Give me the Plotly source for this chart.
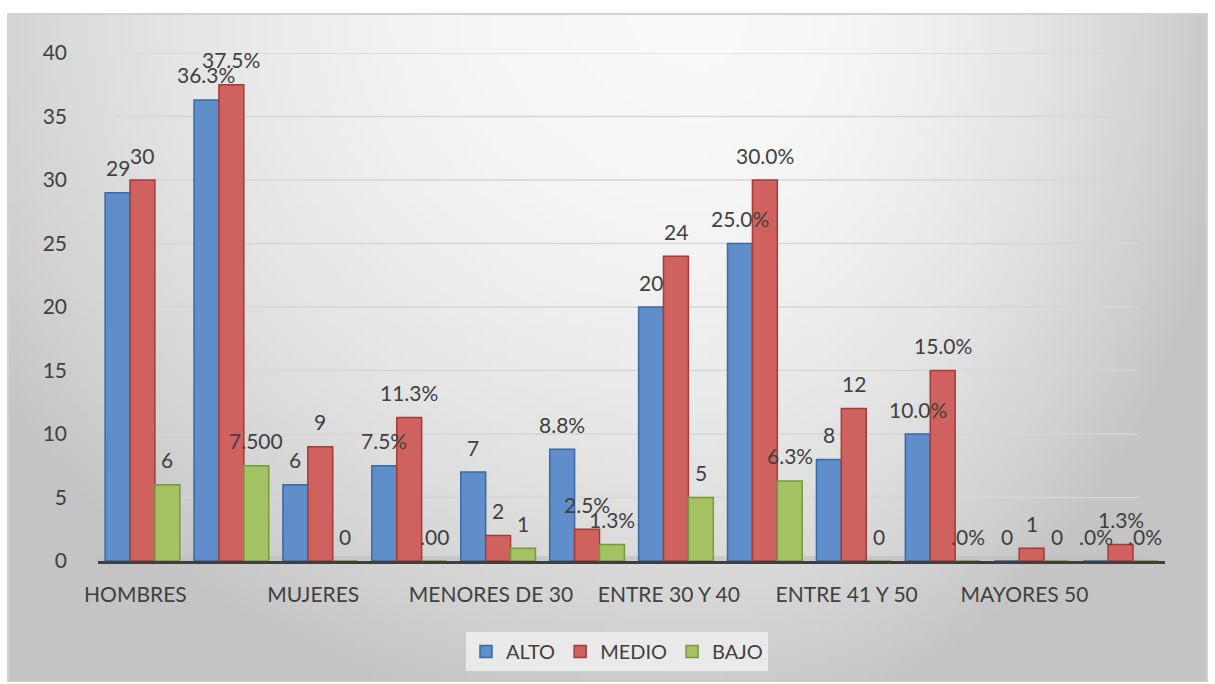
import base64
import struct
import zlib

import plotly.graph_objects as go

# ---------------- data ----------------
categories = ["HOMBRES", "", "MUJERES", "", "MENORES DE 30", "",
              "ENTRE 30 Y 40", "", "ENTRE 41 Y 50", "", "MAYORES 50", ""]
alto = [29, 36.3, 6, 7.5, 7, 8.8, 20, 25, 8, 10, 0, 0]
medio = [30, 37.5, 9, 11.3, 2, 2.5, 24, 30, 12, 15, 1, 1.3]
bajo = [6, 7.5, 0, 0, 1, 1.3, 5, 6.3, 0, 0, 0, 0]
alto_labels = ["29", "36.3%", "6", "7.5%", "7", "8.8%", "20", "25.0%", "8", "10.0%", "0", ".0%"]
medio_labels = ["30", "37.5%", "9", "11.3%", "2", "2.5%", "24", "30.0%", "12", "15.0%", "1", "1.3%"]
bajo_labels = ["6", "7.500", "0", ".00", "1", "1.3%", "5", "6.3%", "0", ".0%", "0", ".0%"]
y_ticks = [0, 5, 10, 15, 20, 25, 30, 35, 40]

series = [
    ("ALTO", alto, alto_labels, "#5f8ecb", "#3b69a3"),
    ("MEDIO", medio, medio_labels, "#cf625f", "#a23c39"),
    ("BAJO", bajo, bajo_labels, "#a4c264", "#79993a"),
]

FONT = "Lato, Carlito, sans-serif"
TXT = "#404040"

# ---------------- layout geometry ----------------
W, H = 1215, 684
ML, MR, MT, MB = 98, 50, 53, 123
PW, PH = W - ML - MR, H - MT - MB
BARGAP = 0.16


def px_to_paper_x(px):
    return (px - ML) / PW


def py_to_paper_y(py):
    return (H - MB - py) / PH


# ---------------- background gradient image ----------------
def make_png(w, h, shade):
    rows = []
    for j in range(h):
        row = bytearray([0])
        for i in range(w):
            row.append(shade(i, j))
        rows.append(bytes(row))
    raw = b"".join(rows)

    def chunk(tag, data):
        return (struct.pack(">I", len(data)) + tag + data
                + struct.pack(">I", zlib.crc32(tag + data) & 0xFFFFFFFF))

    png = b"\x89PNG\r\n\x1a\n"
    png += chunk(b"IHDR", struct.pack(">IIBBBBB", w, h, 8, 0, 0, 0, 0))
    png += chunk(b"IDAT", zlib.compress(raw, 9))
    png += chunk(b"IEND", b"")
    return "data:image/png;base64," + base64.b64encode(png).decode()


BG_X0, BG_Y0, BG_X1, BG_Y1 = 9, 15, 1206, 681
IMG_W, IMG_H = 160, 90


def shade(i, j):
    px = BG_X0 + (i + 0.5) / IMG_W * (BG_X1 - BG_X0)
    py = BG_Y0 + (j + 0.5) / IMG_H * (BG_Y1 - BG_Y0)
    cx, cy = 700.0, 0.0
    sx = 540.0 if px > cx else 840.0
    sy = 740.0
    f = ((px - cx) / sx) ** 2 + ((py - cy) / sy) ** 2
    g = 249 - 53 * min(1.0, f)
    return int(max(0, min(255, round(g))))


bg_src = make_png(IMG_W, IMG_H, shade)

# ---------------- figure ----------------
fig = go.Figure()
x_idx = list(range(len(categories)))
for name, vals, labels, fill, edge in series:
    fig.add_trace(go.Bar(
        name=name, x=x_idx, y=vals,
        marker=dict(color=fill, line=dict(color=edge, width=1.5)),
        hoverinfo="name+y",
    ))

# data labels above the (3D-looking) columns
group_w = (1 - BARGAP) / len(series)
annotations = []
for k, (name, vals, labels, fill, edge) in enumerate(series):
    off = (k - (len(series) - 1) / 2) * group_w
    for i, (v, lab) in enumerate(zip(vals, labels)):
        annotations.append(dict(
            x=i + off, y=v, xref="x", yref="y", text=lab, showarrow=False,
            yanchor="middle", yshift=25,
            font=dict(family=FONT, size=21, color=TXT),
        ))

tick_pos = [i - 0.08 for i, c in enumerate(categories) if c]
tick_txt = [c for c in categories if c]

# gridlines that stop short of the right side, as in the 3D chart
grid_shapes = [dict(
    type="line", xref="paper", yref="y",
    x0=px_to_paper_x(118), x1=px_to_paper_x(1138), y0=t, y1=t,
    line=dict(color="#d6d6d6", width=1.5), layer="below",
) for t in y_ticks if t > 0]

# light floor band under the columns
floor_shape = dict(
    type="rect", xref="paper", yref="paper",
    x0=px_to_paper_x(96), x1=px_to_paper_x(1150),
    y0=py_to_paper_y(562), y1=py_to_paper_y(556),
    line=dict(width=0), fillcolor="rgba(190,190,190,0.6)", layer="below",
)

border_shape = dict(
    type="rect", xref="paper", yref="paper",
    x0=px_to_paper_x(8), x1=px_to_paper_x(1207),
    y0=py_to_paper_y(681), y1=py_to_paper_y(14),
    line=dict(color="#c4c4c4", width=1.5), fillcolor="rgba(0,0,0,0)",
    layer="above",
)

fig.update_layout(
    width=W, height=H,
    margin=dict(l=ML, r=MR, t=MT, b=MB),
    paper_bgcolor="white",
    plot_bgcolor="rgba(0,0,0,0)",
    barmode="group", bargap=BARGAP, bargroupgap=0,
    font=dict(family=FONT, size=21, color=TXT),
    showlegend=True,
    legend=dict(
        orientation="h", x=px_to_paper_x(617), xanchor="center",
        y=py_to_paper_y(632), yanchor="top",
        bgcolor="rgba(238,238,238,0.85)", borderwidth=0,
        font=dict(size=20, color=TXT),
        itemwidth=30, traceorder="normal",
    ),
    xaxis=dict(
        range=[-0.5, len(categories) - 0.5],
        tickmode="array", tickvals=tick_pos, ticktext=tick_txt,
        showgrid=False, zeroline=False, ticks="",
        showline=True, linecolor="#3f3f3f", linewidth=3,
        tickfont=dict(size=21, color=TXT),
        ticklabelstandoff=13,
    ),
    yaxis=dict(
        range=[0, 40], tickmode="array", tickvals=y_ticks,
        showgrid=False, zeroline=False, showline=False, ticks="",
        tickfont=dict(size=21, color=TXT),
        ticklabelstandoff=30,
    ),
    annotations=annotations,
    images=[dict(
        source=bg_src, xref="paper", yref="paper",
        x=px_to_paper_x(BG_X0), y=py_to_paper_y(BG_Y0),
        sizex=(BG_X1 - BG_X0) / PW, sizey=(BG_Y1 - BG_Y0) / PH,
        xanchor="left", yanchor="top", sizing="stretch", layer="below",
    )],
    shapes=grid_shapes + [floor_shape, border_shape],
)

fig.write_html("out.html")
